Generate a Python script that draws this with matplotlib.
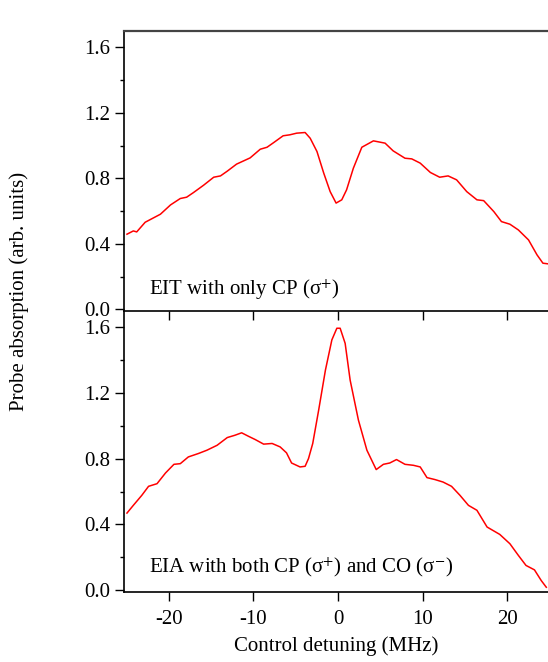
"""Probe absorption vs control detuning: EIT (top) and EIA (bottom) traces."""
import matplotlib
matplotlib.use("Agg")
import matplotlib.pyplot as plt
from matplotlib.ticker import MultipleLocator

plt.rcParams["font.family"] = ["Liberation Serif", "DejaVu Serif"]
plt.rcParams["mathtext.fontset"] = "stix"
plt.rcParams["font.size"] = 15

# Top panel: EIT with only the coupling (CP) beam
eit_detuning = [-24.95, -24.2, -23.8, -22.8, -21.0, -19.8, -18.65, -17.9, -17.1, -15.9,
                -14.7, -13.9, -13.1, -12.0, -10.4, -9.2, -8.4, -7.6, -6.5, -5.7,
                -4.9, -3.9, -3.3, -2.5, -1.7, -0.94, -0.24, 0.43, 1.0, 1.8,
                2.8, 4.17, 5.55, 6.5, 7.9, 8.7, 9.7, 10.9, 12.0, 13.0,
                14.0, 15.2, 16.4, 17.2, 18.4, 19.3, 20.3, 21.3, 22.5, 23.5,
                24.2, 24.8]
eit_absorption = [0.459, 0.479, 0.473, 0.532, 0.581, 0.638, 0.677, 0.685, 0.713, 0.758,
                  0.807, 0.815, 0.844, 0.887, 0.925, 0.978, 0.990, 1.019, 1.060, 1.066,
                  1.076, 1.080, 1.045, 0.964, 0.832, 0.719, 0.649, 0.669, 0.730, 0.862,
                  0.990, 1.029, 1.015, 0.968, 0.923, 0.919, 0.893, 0.836, 0.807, 0.815,
                  0.791, 0.719, 0.669, 0.664, 0.597, 0.536, 0.520, 0.485, 0.424, 0.333,
                  0.282, 0.278]

# Bottom panel: EIA with both the coupling and counter-rotating (CO) beams
eia_detuning = [-24.95, -24.2, -23.2, -22.4, -21.4, -20.4, -19.4, -18.65, -17.7, -16.5,
                -15.5, -14.3, -13.1, -12.2, -11.4, -10.6, -9.8, -8.8, -7.8, -6.85,
                -6.1, -5.5, -4.5, -3.9, -3.5, -3.0, -2.3, -1.5, -0.74, -0.15,
                0.24, 0.83, 1.42, 2.4, 3.4, 4.5, 5.35, 6.1, 6.9, 7.9,
                8.9, 9.7, 10.5, 11.45, 12.4, 13.4, 14.4, 15.4, 16.4, 17.6,
                19.1, 20.3, 21.3, 22.2, 23.2, 24.0, 24.6]
eia_absorption = [0.469, 0.516, 0.577, 0.632, 0.648, 0.713, 0.766, 0.770, 0.811, 0.832,
                  0.852, 0.882, 0.929, 0.943, 0.958, 0.937, 0.917, 0.889, 0.893, 0.872,
                  0.836, 0.774, 0.750, 0.754, 0.801, 0.893, 1.096, 1.340, 1.524, 1.595,
                  1.595, 1.503, 1.279, 1.035, 0.852, 0.734, 0.766, 0.774, 0.795, 0.766,
                  0.760, 0.750, 0.685, 0.673, 0.658, 0.632, 0.577, 0.516, 0.486, 0.384,
                  0.339, 0.282, 0.211, 0.150, 0.123, 0.058, 0.017]

x_ticks = [-20, -10, 0, 10, 20]
y_ticks = [0.0, 0.4, 0.8, 1.2, 1.6]

fig = plt.figure(figsize=(5.48, 6.62), dpi=100)
ax_bot = fig.add_axes([0.2263, 0.1062, 0.7737, 0.4240])
ax_top = fig.add_axes([0.2263, 0.5302, 0.7737, 0.4230])
# top axes drawn last with a clear patch so its bottom ticks overlap the lower panel
ax_top.set_zorder(2)
ax_top.patch.set_visible(False)

panels = [
    (ax_top, eit_detuning, eit_absorption, "EIT with only CP (σ$^{+}$)", 0.085),
    (ax_bot, eia_detuning, eia_absorption,
     "EIA with both CP (σ$^{+}$) and CO (σ$^{-}$)", 0.105),
]
for axis, xs, ys, label, label_y in panels:
    axis.plot(xs, ys, color="#ff0000", linewidth=1.1)
    axis.set_xlim(-25.3, 24.8)
    axis.set_ylim(-0.01, 1.70)
    axis.set_xticks(x_ticks)
    axis.set_yticks(y_ticks, [f"{v:.1f}" for v in y_ticks])
    axis.yaxis.set_minor_locator(MultipleLocator(0.2))
    axis.tick_params(direction="out", length=6.5, width=1.0, colors="black")
    axis.tick_params(which="minor", direction="out", length=3.2, width=1.0)
    axis.tick_params(axis="x", top=False, pad=7)
    axis.spines["right"].set_visible(False)
    for side in ("left", "bottom"):
        axis.spines[side].set_linewidth(1.2)
    axis.text(-22.4, label_y, label, fontsize=15)

ax_top.spines["top"].set_color("#444444")
ax_top.spines["top"].set_linewidth(1.6)
ax_top.tick_params(axis="x", labelbottom=False)
ax_bot.spines["top"].set_visible(False)

ax_bot.set_xticks(x_ticks, [str(v) for v in x_ticks])
ax_bot.set_xlabel("Control detuning (MHz)", labelpad=5)
fig.text(0.035, 0.56, "Probe absorption (arb. units)", rotation=90,
         ha="center", va="center", fontsize=15)

fig.savefig("out.png", dpi=100)
plt.close(fig)
